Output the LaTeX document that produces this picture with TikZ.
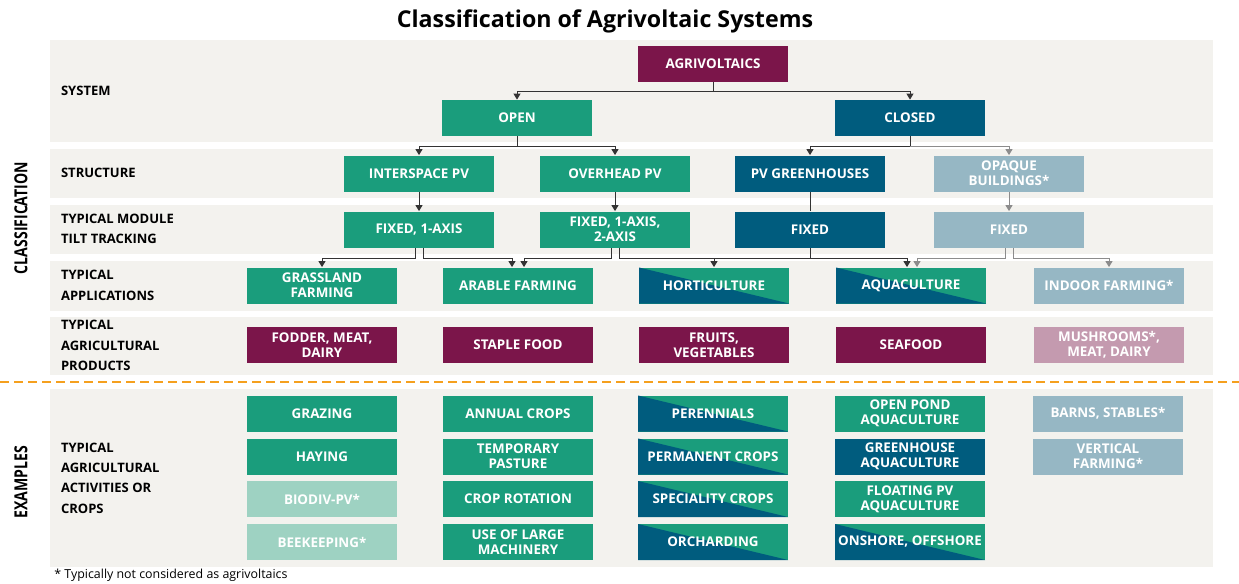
\documentclass[tikz,border=0pt]{standalone}
\usepackage{fontspec}
\setmainfont{Open Sans}
\usetikzlibrary{arrows.meta,calc}

\definecolor{agriGreen}{RGB}{26,157,124}
\definecolor{agriBlue}{RGB}{0,92,126}
\definecolor{agriPurple}{RGB}{123,21,74}
\definecolor{agriGrey}{RGB}{150,183,196}
\definecolor{agriPink}{RGB}{196,154,175}
\definecolor{agriMint}{RGB}{158,210,194}
\definecolor{bandGrey}{RGB}{243,242,238}
\definecolor{dashOrange}{RGB}{245,160,30}

\newcommand{\boxfont}{\fontsize{6.7}{7.6}\selectfont\bfseries}
\newcommand{\labelfont}{\fontsize{6.5}{10.2}\selectfont\bfseries}
\newcommand{\sidetext}[1]{\scalebox{0.78}[1]{#1}}

\begin{document}
\begin{tikzpicture}[x=0.5pt, y=-0.5pt,
    box/.style={minimum width=75pt, minimum height=18pt, inner sep=1pt, align=center, text=white, font=\boxfont},
    greenbox/.style={box, fill=agriGreen},
    bluebox/.style={box, fill=agriBlue},
    purplebox/.style={box, fill=agriPurple},
    greybox/.style={box, fill=agriGrey},
    pinkbox/.style={box, fill=agriPink},
    mintbox/.style={box, fill=agriMint},
    splitbox/.style={box, fill=agriGreen, path picture={
        \fill[agriBlue] (path picture bounding box.north west) -- (path picture bounding box.south east)
            -- (path picture bounding box.south west) -- cycle;}},
    rowlabel/.style={anchor=west, align=left, font=\labelfont},
    sidelabel/.style={rotate=90, font=\fontsize{9}{10}\selectfont\bfseries},
    conn/.style={draw=black!80, line width=0.5pt},
    arr/.style={conn, -{Triangle[length=3pt,width=3.5pt]}},
    greyarr/.style={arr, draw=black!45}]

    \fill[white] (0,0) rectangle (1239,584);
    \useasboundingbox (0,0) rectangle (1239,584);

    % Title
    \node[font=\fontsize{11.6}{13}\selectfont\bfseries] (title) at (605,21) {Classification of Agrivoltaic Systems};

    % Bands
    \fill[bandGrey] (50,40) rectangle (1213,142);
    \fill[bandGrey] (50,149) rectangle (1213,198);
    \fill[bandGrey] (50,205) rectangle (1213,254);
    \fill[bandGrey] (50,261) rectangle (1213,311);
    \fill[bandGrey] (50,317) rectangle (1213,375);
    \fill[bandGrey] (50,389) rectangle (1213,567);
    \draw[dashOrange, line width=1pt, dash pattern=on 4.5pt off 2.5pt] (0,382) -- (1239,382);

    % Side labels
    \node[sidelabel] (classlabel) at (21,218) {\sidetext{CLASSIFICATION}};
    \node[sidelabel] (exlabel) at (21,482) {\sidetext{EXAMPLES}};

    % Row labels
    \node[rowlabel] (lsystem) at (54,91) {SYSTEM};
    \node[rowlabel] (lstructure) at (54,173) {STRUCTURE};
    \node[rowlabel] (ltilt) at (54,229) {TYPICAL MODULE\\TILT TRACKING};
    \node[rowlabel] (lapps) at (54,285.5) {TYPICAL\\APPLICATIONS};
    \node[rowlabel] (lproducts) at (54,345.5) {TYPICAL\\AGRICULTURAL\\PRODUCTS};
    \node[rowlabel] (lexamples) at (54,478) {TYPICAL\\AGRICULTURAL\\ACTIVITIES OR\\CROPS};

    % System
    \node[purplebox] (agri) at (713,63.5) {AGRIVOLTAICS};
    \node[greenbox] (open) at (517,118) {OPEN};
    \node[bluebox] (closed) at (910,118) {CLOSED};

    % Structure
    \node[greenbox] (interspace) at (419,173.5) {INTERSPACE PV};
    \node[greenbox] (overhead) at (615,173.5) {OVERHEAD PV};
    \node[bluebox] (pvgreen) at (810,173.5) {PV GREENHOUSES};
    \node[greybox] (opaque) at (1009,173.5) {OPAQUE\\BUILDINGS*};

    % Tilt tracking
    \node[greenbox] (fixA) at (419,229.5) {FIXED, 1-AXIS};
    \node[greenbox] (fixB) at (615,229.5) {FIXED, 1-AXIS,\\2-AXIS};
    \node[bluebox] (fixC) at (810,229.5) {FIXED};
    \node[greybox] (fixD) at (1009,229.5) {FIXED};

    % Applications
    \node[greenbox] (grass) at (322,285.5) {GRASSLAND\\FARMING};
    \node[greenbox] (arable) at (518,285.5) {ARABLE FARMING};
    \node[splitbox] (horti) at (714,285.5) {HORTICULTURE};
    \node[splitbox] (aqua) at (911,285.5) {AQUACULTURE};
    \node[greybox] (indoor) at (1109,285.5) {INDOOR FARMING*};

    % Products
    \node[purplebox] (fodder) at (322,345) {FODDER, MEAT,\\DAIRY};
    \node[purplebox] (staple) at (518,345) {STAPLE FOOD};
    \node[purplebox] (fruits) at (714,345) {FRUITS,\\VEGETABLES};
    \node[purplebox] (seafood) at (911,345) {SEAFOOD};
    \node[pinkbox] (mushrooms) at (1109,345) {MUSHROOMS*,\\MEAT, DAIRY};

    % Examples
    \node[greenbox] (grazing) at (322,413.5) {GRAZING};
    \node[greenbox] (haying) at (322,456.5) {HAYING};
    \node[mintbox] (biodiv) at (322,499) {BIODIV-PV*};
    \node[mintbox] (beekeeping) at (322,542) {BEEKEEPING*};

    \node[greenbox] (annual) at (518,413.5) {ANNUAL CROPS};
    \node[greenbox] (pasture) at (518,456.5) {TEMPORARY\\PASTURE};
    \node[greenbox] (rotation) at (518,499) {CROP ROTATION};
    \node[greenbox] (machinery) at (518,542) {USE OF LARGE\\MACHINERY};

    \node[splitbox] (perennials) at (713,413.5) {PERENNIALS};
    \node[splitbox] (permanent) at (713,456.5) {PERMANENT CROPS};
    \node[splitbox] (speciality) at (713,499) {SPECIALITY CROPS};
    \node[splitbox] (orcharding) at (713,542) {ORCHARDING};

    \node[greenbox] (pond) at (910,413.5) {OPEN POND\\AQUACULTURE};
    \node[bluebox] (greenhouse) at (910,456.5) {GREENHOUSE\\AQUACULTURE};
    \node[greenbox] (floating) at (910,499) {FLOATING PV\\AQUACULTURE};
    \node[splitbox] (onshore) at (910,542) {ONSHORE, OFFSHORE};

    \node[greybox] (barns) at (1108,413.5) {BARNS, STABLES*};
    \node[greybox] (vertical) at (1108,456.5) {VERTICAL\\FARMING*};

    % Footnote
    \node[anchor=west, font=\fontsize{6.2}{7}\selectfont, inner sep=0pt] (note) at (54,575) {* Typically not considered as agrivoltaics};

    % System connectors
    \draw[conn] (agri.south) -- ++(0,9.5) coordinate (sysjoin);
    \draw[arr] (sysjoin) -| (open.north);
    \draw[arr] (sysjoin) -| (closed.north);
    \draw[conn] (open.south) -- ++(0,10) coordinate (openjoin);
    \draw[arr] (openjoin) -| (interspace.north);
    \draw[arr] (openjoin) -| (overhead.north);
    \draw[conn] (closed.south) -- ++(0,10) coordinate (closedjoin);
    \draw[arr] (closedjoin) -| (pvgreen.north);
    \draw[greyarr] (closedjoin) -| (opaque.north);

    % Structure to tilt
    \draw[arr] (interspace) -- (fixA);
    \draw[arr] (overhead) -- (fixB);
    \draw[conn] (pvgreen) -- (fixC);
    \draw[greyarr] (opaque) -- (fixD);

    % Tilt to applications
    \draw[arr] ($(fixA.south)+(-4,0)$) -- ++(0,10.5) -| (grass.north);
    \draw[arr] ($(fixA.south)+(4,0)$) -- ++(0,10.5) -| ($(arable.north)+(-6,0)$);
    \draw[arr] ($(fixB.south)+(-4,0)$) -- ++(0,10.5) -| ($(arable.north)+(6,0)$);
    \draw[arr] ($(fixB.south)+(4,0)$) -- ++(0,10.5) -| (horti.north);
    \draw[arr] ($(fixB.south)+(4,10.5)$) -| ($(aqua.north)+(-4,0)$);
    \draw[conn] (fixC.south) -- ++(0,10.5);
    \draw[greyarr] ($(fixD.south)+(-4,0)$) -- ++(0,10.5) -| ($(aqua.north)+(6,0)$);
    \draw[greyarr] ($(fixD.south)+(4,0)$) -- ++(0,10.5) -| (indoor.north);

\end{tikzpicture}
\end{document}
